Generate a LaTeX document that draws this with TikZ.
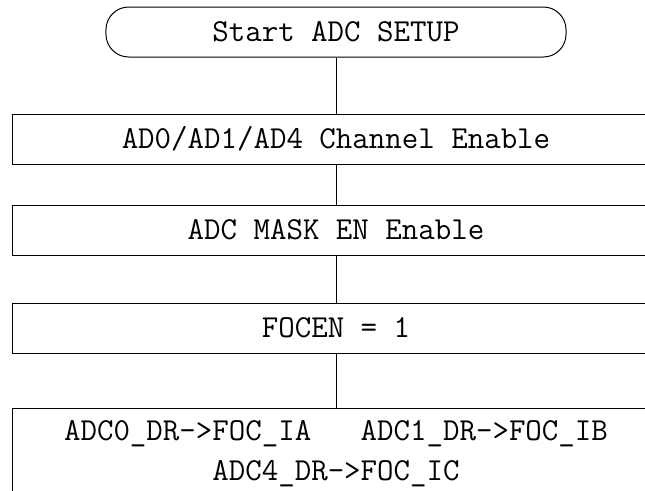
\documentclass[tikz,border=0pt]{standalone}
\usepackage{fontspec}
\usetikzlibrary{positioning}

\begin{document}
\begin{tikzpicture}[
  line width=0.75pt,
  every node/.style={draw, font=\fontsize{24}{30}\selectfont\ttfamily, align=center},
  startbox/.style={rounded corners=17pt, minimum width=345pt, minimum height=37.5pt, inner sep=0pt, text height=17pt, text depth=2.3pt},
  stepbox/.style={minimum width=484.5pt, minimum height=37.5pt, inner sep=0pt, text height=17pt, text depth=2.3pt},
  mapbox/.style={minimum width=484.5pt, inner xsep=0pt, inner ysep=9pt}
]
\useasboundingbox (-252pt,24pt) rectangle (231.75pt,-343.5pt);
\clip (-252pt,24pt) rectangle (231.75pt,-343.5pt);
% start
\node[startbox] (start) at (0,0) {Start ADC SETUP};
% setup steps
\node[stepbox, below=42pt of start] (chan) {AD0/AD1/AD4 Channel Enable};
\node[stepbox, below=30pt of chan] (mask) {ADC MASK EN Enable};
\node[stepbox, below=35.25pt of mask] (focen) {FOCEN = 1};
\node[mapbox, below=40.5pt of focen] (map) {ADC0\_DR->FOC\_IA~~~ADC1\_DR->FOC\_IB\\ADC4\_DR->FOC\_IC};
% connections
\draw (start) -- (chan);
\draw (chan) -- (mask);
\draw (mask) -- (focen);
\draw (focen) -- (map);
\end{tikzpicture}
\end{document}
